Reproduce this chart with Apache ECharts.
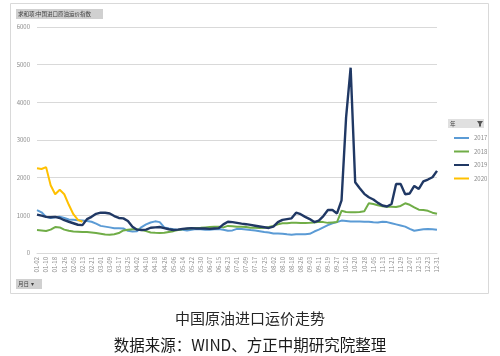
<!DOCTYPE html>
<html><head><meta charset="utf-8">
<script src="https://cdn.jsdelivr.net/npm/echarts@6/dist/echarts.min.js"></script>
<style>html,body{margin:0;padding:0;background:#fff;}#c{width:500px;height:356px;}</style>
</head><body><div id="c"></div>
<script>
var dates = ['01-02','01-06','01-10','01-14','01-18','01-22','01-26','01-31','02-05','02-09','02-13','02-17','02-21','02-25','03-01','03-05','03-09','03-13','03-17','03-21','03-25','03-29','04-02','04-06','04-10','04-14','04-18','04-22','04-26','04-30','05-06','05-10','05-14','05-18','05-22','05-26','05-30','06-03','06-07','06-11','06-15','06-19','06-23','06-27','07-01','07-05','07-09','07-13','07-17','07-21','07-25','07-29','08-02','08-06','08-10','08-14','08-18','08-22','08-26','08-30','09-03','09-07','09-11','09-15','09-19','09-23','09-27','10-08','10-12','10-16','10-20','10-24','10-28','11-01','11-05','11-09','11-13','11-17','11-21','11-25','11-29','12-03','12-07','12-11','12-15','12-19','12-23','12-27','12-31'];
var years = ['2017','2018','2019','2020'];
var v2017 = [1140,1080,960,930,950,960,930,890,880,870,860,850,830,780,720,700,680,660,660,650,590,570,580,690,760,810,840,820,680,650,630,620,620,600,620,635,630,620,615,630,635,616,590,600,640,640,625,610,600,580,560,545,520,515,510,495,485,495,500,500,510,570,620,680,740,790,820,860,850,836,836,836,830,830,815,810,830,820,790,760,730,700,640,590,610,630,640,630,615];
var v2018 = [610,600,585,620,690,680,620,590,570,565,560,555,545,530,510,490,485,500,530,600,616,630,630,610,580,545,535,530,540,560,580,610,630,645,660,665,670,680,690,700,700,680,720,710,700,700,690,670,670,665,670,690,720,760,790,790,800,800,795,795,800,810,830,820,800,810,820,1120,1090,1085,1085,1090,1110,1320,1300,1270,1240,1230,1230,1220,1250,1320,1280,1210,1150,1140,1120,1070,1040];
var v2019 = [1020,990,960,950,960,930,870,830,790,750,740,900,960,1040,1070,1070,1050,980,930,920,850,700,620,610,620,670,680,690,660,630,610,620,640,650,660,650,650,650,640,650,660,760,830,820,800,780,765,745,725,705,685,665,700,820,880,900,920,1070,1030,960,900,820,860,980,1140,1140,1050,1400,3600,4920,1880,1720,1570,1480,1420,1330,1260,1235,1300,1830,1830,1560,1580,1780,1700,1900,1950,2010,2180];
var v2020 = [2250,2230,2280,1800,1560,1680,1560,1280,1030,880,830];
var yTicks = [0,1000,2000,3000,4000,5000,6000];
var colors = ['#5b9bd5','#70ad47','#203864','#ffc000'];
var widths = [2,2,2.4,2];
var seriesData = [v2017, v2018, v2019, v2020];

var chart = echarts.init(document.getElementById('c'), null, {renderer:'canvas'});
var series = years.map(function(y, i){
  return {name:y, type:'line', data:seriesData[i], showSymbol:false, symbol:'none',
    lineStyle:{width:widths[i], color:colors[i]}, itemStyle:{color:colors[i]}, z: i===2?5:3};
});
chart.setOption({
  animation:false,
  textStyle:{fontFamily:'"Noto Sans CJK SC", "Noto Sans", sans-serif'},
  grid:{left:37, right:63, top:27, bottom:103, containLabel:false},
  xAxis:{type:'category', data:dates, boundaryGap:false,
    axisLine:{show:true, lineStyle:{color:'#d9d9d9'}}, axisTick:{show:false},
    axisLabel:{interval:1, rotate:90, fontSize:6, color:'#8c8c8c', margin:4}},
  yAxis:{type:'value', min:yTicks[0], max:yTicks[yTicks.length-1], interval:1000,
    axisLine:{show:false}, axisTick:{show:false},
    splitLine:{lineStyle:{color:'#d9d9d9', width:1}},
    axisLabel:{fontSize:6, color:'#8c8c8c', margin:7, formatter:function(v){return String(v);}}},
  legend:{orient:'vertical', left:449, top:130, icon:'rect', itemWidth:15, itemHeight:2, itemGap:7.5,
    textStyle:{fontSize:6, color:'#8c8c8c'}, data:years},
  series:series,
  graphic:[
    {type:'rect', shape:{x:10.5, y:3.5, width:478, height:290}, style:{fill:'none', stroke:'#d9d9d9', lineWidth:1}, silent:true},
    {type:'rect', shape:{x:16, y:9, width:87, height:10}, style:{fill:'#d0d0d0'}},
    {type:'text', x:18, y:14, style:{text:'求和项:中国进口原油运价指数', fontSize:5.5, fill:'#404040', verticalAlign:'middle', fontFamily:'"Noto Sans CJK SC"'}},
    {type:'rect', shape:{x:16, y:279, width:26, height:10}, style:{fill:'#d0d0d0'}},
    {type:'text', x:18, y:284, style:{text:'月日  ▾', fontSize:5.5, fill:'#404040', verticalAlign:'middle', fontFamily:'"Noto Sans CJK SC"'}},
    {type:'rect', shape:{x:448, y:119, width:36, height:9}, style:{fill:'#e0e0e0'}},
    {type:'text', x:450, y:123.5, style:{text:'年', fontSize:5.5, fill:'#404040', verticalAlign:'middle', fontFamily:'"Noto Sans CJK SC"'}},
    {type:'polygon', shape:{points:[[477,121],[483,121],[481,124],[481,126.5],[479,126.5],[479,124]]}, style:{fill:'#555'}},
    {type:'text', x:250, y:318, style:{text:'中国原油进口运价走势', fontSize:15, fill:'#262626', align:'center', verticalAlign:'middle', fontFamily:'"Noto Sans CJK SC"'}},
    {type:'text', x:250, y:345, style:{text:'数据来源：WIND、方正中期研究院整理', fontSize:15.5, fill:'#1a1a1a', align:'center', verticalAlign:'middle', fontFamily:'"Noto Sans CJK SC"'}}
  ]
});
</script></body></html>
